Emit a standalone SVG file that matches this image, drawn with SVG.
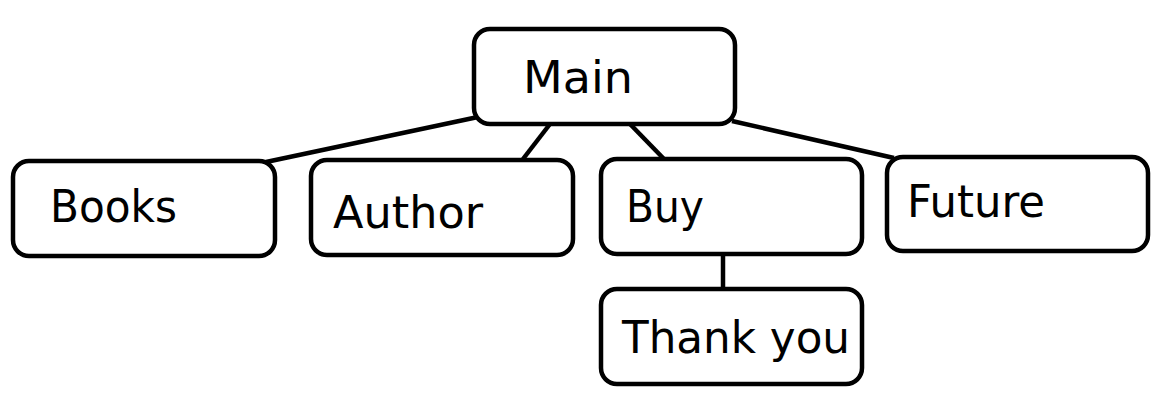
<svg xmlns="http://www.w3.org/2000/svg" width="1162" height="414" viewBox="0 0 1162 414">
<style>
.box{fill:#fff;stroke:#000;stroke-width:4.5}
.lbl{font-family:"DejaVu Sans",sans-serif;font-size:45px;fill:#000}
.con{stroke:#000;stroke-width:4.5;fill:none}
</style>
<rect width="1162" height="414" fill="#fff"/>
<g id="connectors">
<line class="con" x1="478" y1="117" x2="266" y2="162"/>
<line class="con" x1="550" y1="124" x2="523" y2="159"/>
<line class="con" x1="630" y1="124" x2="664" y2="159"/>
<line class="con" x1="732" y1="121" x2="894" y2="158"/>
<line class="con" x1="723" y1="254" x2="723" y2="290"/>
</g>
<g id="main"><rect class="box" x="474" y="29" width="261" height="95" rx="16"/><text class="lbl" x="523" y="93" textLength="110" lengthAdjust="spacingAndGlyphs">Main</text></g>
<g id="books"><rect class="box" x="13" y="161" width="262" height="95" rx="16"/><text class="lbl" x="50" y="222" textLength="127" lengthAdjust="spacingAndGlyphs">Books</text></g>
<g id="author"><rect class="box" x="311" y="160" width="262" height="95" rx="16"/><text class="lbl" x="333" y="228" textLength="150" lengthAdjust="spacingAndGlyphs">Author</text></g>
<g id="buy"><rect class="box" x="601" y="159" width="261" height="95" rx="16"/><text class="lbl" x="626" y="222" textLength="78" lengthAdjust="spacingAndGlyphs">Buy</text></g>
<g id="future"><rect class="box" x="887" y="157" width="261" height="94" rx="16"/><text class="lbl" x="907" y="217" textLength="138" lengthAdjust="spacingAndGlyphs">Future</text></g>
<g id="thankyou"><rect class="box" x="601" y="289" width="261" height="95" rx="16"/><text class="lbl" x="622" y="353" textLength="228" lengthAdjust="spacingAndGlyphs">Thank you</text></g>
</svg>
